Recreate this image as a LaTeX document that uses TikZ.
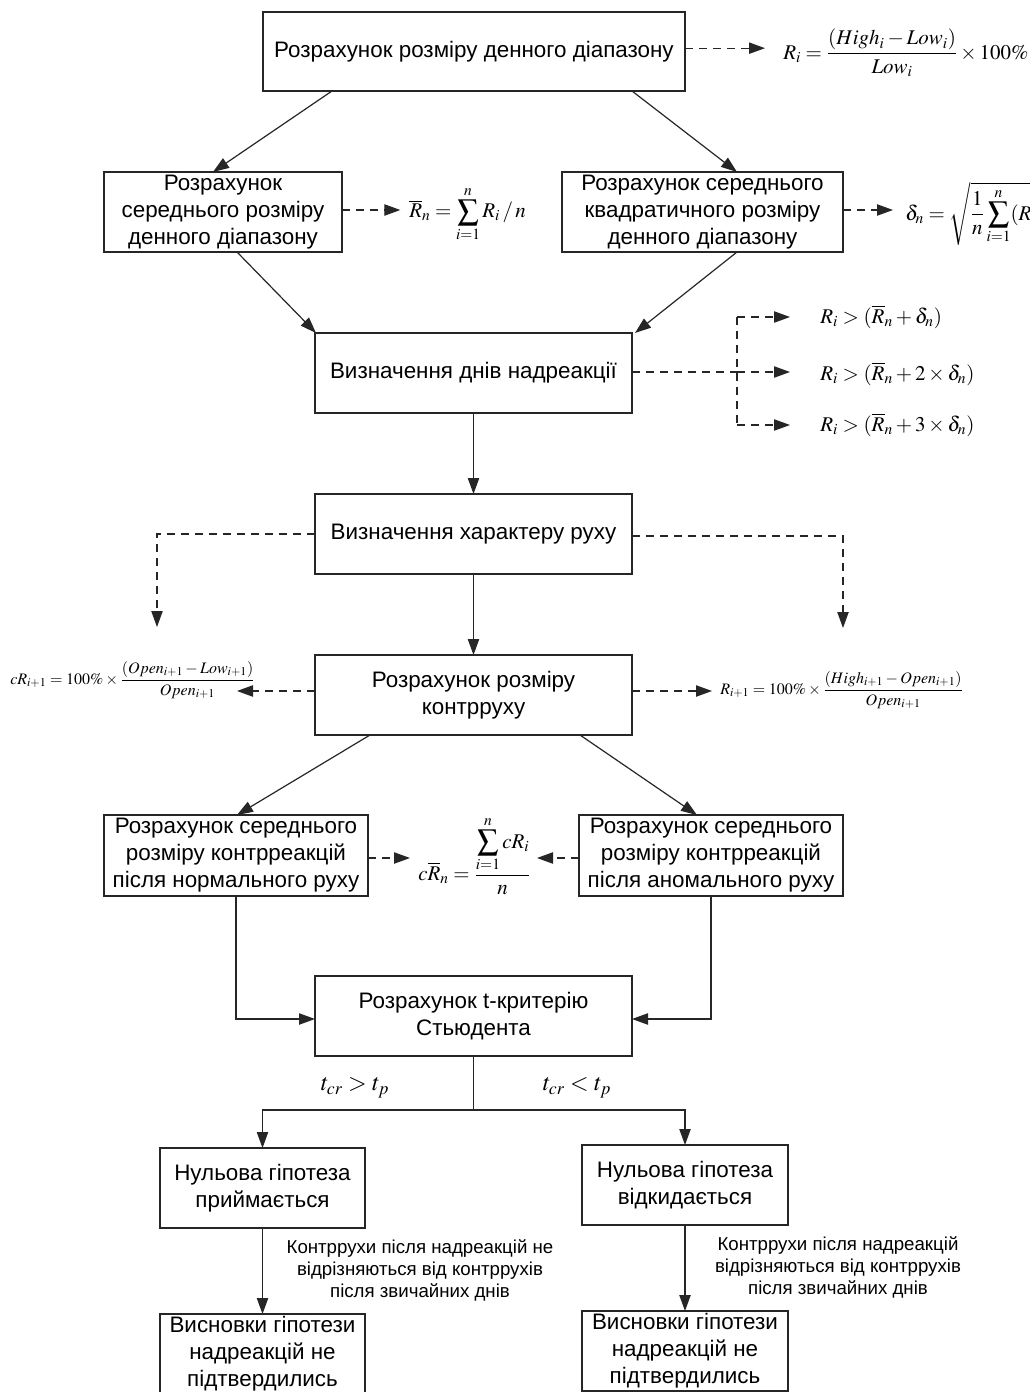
\documentclass[tikz,border=0pt]{standalone}
\usepackage{mathptmx}
\usepackage[no-math]{fontspec}
\setmainfont{Liberation Sans}
\usetikzlibrary{arrows.meta,calc}
\begin{document}
\begin{tikzpicture}[x=0.75pt,y=-0.75pt,
  box/.style={draw=black!85, line width=0.9pt, align=center, font=\fontsize{16.8}{20.25}\selectfont, inner sep=0pt, outer sep=0pt},
  arr/.style={-{Triangle[length=12pt,width=8.5pt]}, line width=0.9pt, draw=black!85},
  darr/.style={arr, dash pattern=on 6pt off 4.5pt},
  dline/.style={line width=0.9pt, draw=black!85, dash pattern=on 6pt off 4.5pt},
  fml/.style={inner sep=0pt, anchor=west, font=\fontsize{15.7}{18}\selectfont},
  sfml/.style={inner sep=0pt, anchor=west, font=\fontsize{12}{14}\selectfont},
  note/.style={align=center, font=\fontsize{14}{16.5}\selectfont, inner sep=0pt},
  lbl/.style={inner sep=0pt, font=\fontsize{18}{20}\selectfont}]
\useasboundingbox (0,0) rectangle (1029,1392);

% boxes
\node[box, minimum width=316.5pt, minimum height=59.25pt] (top) at (474,51.5) {Розрахунок розміру денного діапазону};
\node[box, minimum width=178.5pt, minimum height=60pt] (left) at (223,212) {Розрахунок\\середнього розміру\\денного діапазону};
\node[box, minimum width=210.75pt, minimum height=60pt] (right) at (702.5,212) {Розрахунок середнього\\квадратичного розміру\\денного діапазону};
\node[box, minimum width=237.75pt, minimum height=60pt] (dniv) at (473.5,373) {Визначення днів надреакції};
\node[box, minimum width=237.75pt, minimum height=60pt] (kh) at (473.5,534) {Визначення характеру руху};
\node[box, minimum width=237.75pt, minimum height=60pt] (kon) at (473.5,695) {Розрахунок розміру\\контрруху};
\node[box, minimum width=198pt, minimum height=60.75pt] (l7) at (236,855.5) {Розрахунок середнього\\розміру контрреакцій\\після нормального руху};
\node[box, minimum width=198pt, minimum height=60.75pt] (r8) at (711,855.5) {Розрахунок середнього\\розміру контрреакцій\\після аномального руху};
\node[box, minimum width=237.75pt, minimum height=60pt] (tt) at (473.5,1016) {Розрахунок t-критерію\\Стьюдента};
\node[box, minimum width=153.75pt, minimum height=60pt] (n1) at (262.5,1188) {Нульова гіпотеза\\приймається};
\node[box, minimum width=154.5pt, minimum height=60pt] (n2) at (685,1185) {Нульова гіпотеза\\відкидається};
\node[box, minimum width=153.75pt, minimum height=60pt] (v1) at (262.5,1354) {Висновки гіпотези\\надреакцій не\\підтвердились};
\node[box, minimum width=154.5pt, minimum height=60pt] (v2) at (685,1351) {Висновки гіпотези\\надреакцій не\\підтвердились};

% formulas
\node[fml] (f1) at (783,53) {$\displaystyle R_i = \frac{(High_i - Low_i)}{Low_i}\times 100\%$};
\node[fml] (f2) at (409,214) {$\displaystyle \overline{R}_n = \sum_{i=1}^{n} R_i \,/\, n$};
\node[fml] (f3) at (905,214) {$\displaystyle \delta_n = \sqrt{\frac{1}{n}\sum_{i=1}^{n}(R_i-\overline{R}_n)^2}$};
\node[fml] (f4) at (820,317) {$R_i > (\overline{R}_n + \delta_n)$};
\node[fml] (f5) at (820,374) {$R_i > (\overline{R}_n + 2\times\delta_n)$};
\node[fml] (f6) at (820,425) {$R_i > (\overline{R}_n + 3\times\delta_n)$};
\node[sfml] (f7) at (10,680) {$\displaystyle cR_{i+1} = 100\%\times\frac{(Open_{i+1} - Low_{i+1})}{Open_{i+1}}$};
\node[sfml] (f8) at (720,690) {$\displaystyle R_{i+1} = 100\%\times\frac{(High_{i+1} - Open_{i+1})}{Open_{i+1}}$};
\node[fml] (f9) at (418,856) {$\displaystyle c\overline{R}_n = \frac{\displaystyle\sum_{i=1}^{n} cR_i}{n}$};

% labels
\node[lbl] (la) at (355,1088) {$t_{cr} > t_p$};
\node[lbl] (lb) at (577,1088) {$t_{cr} < t_p$};
\node[note] (na) at (420,1270) {Контррухи після надреакцій не\\відрізняються від контррухів\\після звичайних днів};
\node[note] (nb) at (838,1267) {Контррухи після надреакцій\\відрізняються від контррухів\\після звичайних днів};

% solid connectors
\draw[arr] ($(top.south)+(-142,0)$) -- ($(left.north)+(-10,0)$);
\draw[arr] ($(top.south)+(158,0)$) -- ($(right.north)+(34.5,0)$);
\draw[arr] ($(left.south)+(14,0)$) -- ($(dniv.north)+(-157.5,0)$);
\draw[arr] ($(right.south)+(34.5,0)$) -- ($(dniv.north)+(161.5,0)$);
\draw[arr] (dniv.south) -- (kh.north);
\draw[arr] (kh.south) -- (kon.north);
\draw[arr] ($(kon.south)+(-103.5,0)$) -- ($(l7.north)+(1,0)$);
\draw[arr] ($(kon.south)+(106.5,0)$) -- ($(r8.north)+(-14,0)$);
\draw[arr] (l7.south) |- ($(tt.west)+(0,3)$);
\draw[arr] (r8.south) |- ($(tt.east)+(0,3)$);
\draw[line width=0.9pt, draw=black!85] (tt.south) -- ++(0,54) coordinate (sp);
\draw[arr] (sp) -| (n1.north);
\draw[arr] (sp) -| (n2.north);
\draw[arr] (n1.south) -- (v1.north);
\draw[arr] (n2.south) -- (v2.north);

% dashed connectors
\draw[darr, shorten >=13.5pt] ([yshift=2.5pt]top.east) -- ([yshift=2.5pt]top.east -| f1.west);
\draw[darr, shorten >=6.5pt] ([yshift=1.5pt]left.east) -- ([yshift=1.5pt]left.east -| f2.west);
\draw[darr, shorten >=9pt] ([yshift=1.5pt]right.east) -- ([yshift=1.5pt]right.east -| f3.west);
\coordinate (br) at (737,372);
\draw[dline] (dniv.east |- br) -- (br);
\draw[dline] (br |- f4.west) -- (br |- f6.west);
\draw[darr, shorten >=22.5pt] (br |- f4.west) -- (f4.west);
\draw[darr, shorten >=22.5pt] (br) -- (br -| f5.west);
\draw[darr, shorten >=22.5pt] (br |- f6.west) -- (f6.west);
\coordinate (kl) at (157,627);
\coordinate (kr) at (843,628);
\draw[darr] (kh.west) -| (kl);
\draw[darr] ($(kh.east)+(0,2)$) -| (kr);
\draw[darr] ($(kon.west)+(0,-4)$) -- ++(-78,0);
\draw[darr] ($(kon.east)+(0,-4)$) -- ++(80,0);
\draw[darr] ($(l7.east)+(0,2.5)$) -- ++(42,0);
\draw[darr] ($(r8.west)+(0,2.5)$) -- ++(-42,0);
\end{tikzpicture}
\end{document}
